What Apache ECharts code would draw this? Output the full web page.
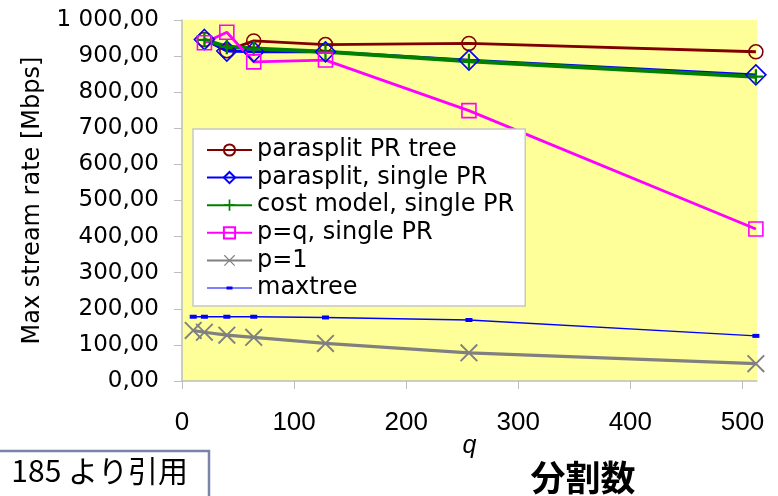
<!DOCTYPE html>
<html>
<head>
<meta charset="utf-8">
<script src="https://cdn.jsdelivr.net/npm/echarts@6/dist/echarts.min.js"></script>
<style>
  html, body { margin: 0; padding: 0; background: #ffffff; }
  #chart { width: 778px; height: 496px; }
</style>
</head>
<body>
<div id="chart"></div>
<script>
// Number of partitions q
const qAll = [10, 20, 40, 64, 128, 256, 512];
const qMulti = [20, 40, 64, 128, 256, 512];

// Max stream rate [Mbps]
const paraTree   = [946, 915, 942, 932, 935, 912];
const paraSingle = [946, 914, 912, 912, 889, 848];
const costModel  = [945, 926, 921, 912, 886, 843];
const pEqualsQ   = [937, 966, 884, 889, 749, 421];
const pOne       = [140, 135, 127, 121, 104, 78, 48];
const maxTree    = [178, 178, 178, 178, 176, 169, 125];

const xTicks = [0, 100, 200, 300, 400, 500];

const pairs = (xs, ys) => xs.map((x, i) => [x, ys[i]]);

// "1 000,00" style labels
function fmtRate(v) {
  const s = v.toFixed(2).split('.');
  const intPart = s[0].replace(/\B(?=(\d{3})+(?!\d))/g, ' ');
  return intPart + ',' + s[1];
}

const plusPath = 'path://M8.5,0H11.5V20H8.5Z M0,8.5H20V11.5H0Z';
const crossPath = 'path://M0,1.5L1.5,0L20,18.5L18.5,20Z M18.5,0L20,1.5L1.5,20L0,18.5Z';
// thin line with a small dot, framed by two tiny corner specks so it keeps its proportions
const dotLineIcon = 'path://M0,0H0.05V0.05H0Z M44.95,13.95H45V14H44.95Z M0,6.4H45V7.6H0Z M19.5,5.5H25.5V8.5H19.5Z';

const chart = echarts.init(document.getElementById('chart'), null, { renderer: 'canvas' });

function hollow(name, data, color, symbol, size, width) {
  return {
    name, type: 'line', data,
    symbol, symbolSize: size,
    lineStyle: { color, width },
    itemStyle: { color: 'transparent', borderColor: color, borderWidth: 1.6 },
    emphasis: { disabled: true },
    animation: false
  };
}

function filled(name, data, color, symbol, size, width) {
  return {
    name, type: 'line', data,
    symbol, symbolSize: size,
    lineStyle: { color, width },
    itemStyle: { color, borderWidth: 0 },
    emphasis: { disabled: true },
    animation: false
  };
}

chart.setOption({
  backgroundColor: '#ffffff',
  animation: false,
  grid: {
    left: 182, right: 21, top: 20, bottom: 115,
    show: true, backgroundColor: '#ffff99', borderWidth: 0
  },
  legend: {
    orient: 'vertical',
    left: 193, top: 129,
    padding: [9, 11, 6, 13],
    backgroundColor: '#ffffff',
    borderColor: '#c8c8c8', borderWidth: 1.5,
    itemWidth: 45, itemHeight: 14, itemGap: 3.6,
    textStyle: { fontFamily: 'DejaVu Sans', fontSize: 24, color: '#000', lineHeight: 22 },
    data: ['parasplit PR tree', 'parasplit, single PR', 'cost model, single PR',
           'p=q, single PR', 'p=1', { name: 'maxtree', icon: dotLineIcon }]
  },
  xAxis: {
    type: 'value', min: 0, max: 513, interval: 100,
    name: 'q', nameLocation: 'middle', nameGap: 53, nameMoveOverlap: false,
    nameTextStyle: { fontFamily: 'Liberation Sans', fontStyle: 'italic', fontSize: 25, color: '#000' },
    axisLine: { show: true, lineStyle: { color: '#bdbdbd', width: 1.5 } },
    axisTick: { show: true, length: 8, customValues: xTicks, lineStyle: { color: '#bdbdbd' } },
    axisLabel: { customValues: xTicks, margin: 29, fontFamily: 'Liberation Sans', fontSize: 26, color: '#000' },
    splitLine: { show: false }
  },
  yAxis: {
    type: 'value', min: 0, max: 1000, interval: 100,
    name: 'Max stream rate [Mbps]', nameLocation: 'middle', nameGap: 137,
    nameTextStyle: { fontFamily: 'DejaVu Sans', fontSize: 24, color: '#000' },
    axisLine: { show: true, lineStyle: { color: '#bdbdbd', width: 1.5 } },
    axisTick: { show: true, length: 8, lineStyle: { color: '#bdbdbd' } },
    axisLabel: { margin: 23, fontFamily: 'DejaVu Sans', fontSize: 23, color: '#000', formatter: fmtRate },
    splitLine: { show: false }
  },
  series: [
    hollow('parasplit PR tree', pairs(qMulti, paraTree), '#800000', 'circle', 14, 2.8),
    hollow('parasplit, single PR', pairs(qMulti, paraSingle), '#0000ff', 'diamond', 20, 2.8),
    filled('cost model, single PR', pairs(qMulti, costModel), '#008000', plusPath, 15, 4),
    hollow('p=q, single PR', pairs(qMulti, pEqualsQ), '#ff00ff', 'rect', 14, 2.8),
    filled('p=1', pairs(qAll, pOne), '#808080', crossPath, 18, 3.2),
    filled('maxtree', pairs(qAll, maxTree), '#0000ff', 'rect', [7, 4], 1.5)
  ],
  graphic: [
    {
      type: 'rect', z: 10,
      shape: { x: -10, y: 451, width: 219, height: 60 },
      style: { fill: '#ffffff', stroke: '#7a84a8', lineWidth: 2.5 }
    },
    {
      type: 'text', z: 11,
      style: {
        text: '185 より引用', x: 188, y: 471,
        align: 'right', verticalAlign: 'middle',
        font: '30px "Noto Sans CJK JP"', fill: '#000'
      }
    },
    {
      type: 'text', z: 11,
      style: {
        text: '分割数', x: 583, y: 478,
        align: 'center', verticalAlign: 'middle',
        font: 'bold 35px "Noto Sans CJK JP"', fill: '#000'
      }
    }
  ]
});
</script>
</body>
</html>
